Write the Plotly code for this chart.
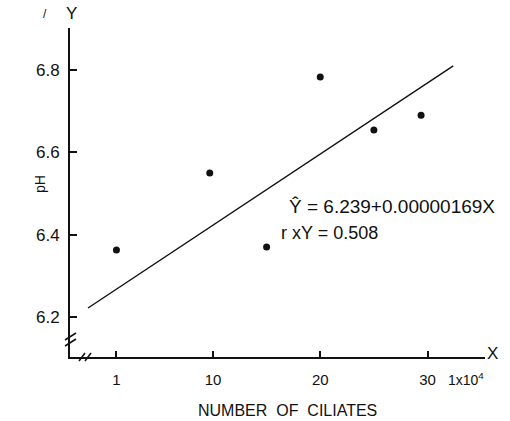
import plotly.graph_objects as go

# Data (x in units of 10^4 ciliates, y = pH)
ciliates = [1, 9.7, 15, 20, 25, 29.4]
ph = [6.363, 6.55, 6.37, 6.783, 6.654, 6.69]

# Regression line end points as drawn
reg_x = [-1.65, 32.4]
reg_y = [6.222, 6.81]

x_ticks = [1, 10, 20, 30]
x_ticktext = ["1", "10", "20", "30"]
y_ticks = [6.2, 6.4, 6.6, 6.8]
y_ticktext = ["6.2", "6.4", "6.6", "6.8"]

W, H = 510, 421
L, R, T, B = 70, 25, 28, 64
PW, PH = W - L - R, H - T - B

def px(x):
    return (x - L) / PW

def py(y):
    return (H - B - y) / PH

FONT = "Liberation Sans"
INK = "#111111"

fig = go.Figure()
fig.add_trace(go.Scatter(x=reg_x, y=reg_y, mode="lines",
                         line=dict(color=INK, width=1.4), hoverinfo="skip"))
fig.add_trace(go.Scatter(x=ciliates, y=ph, mode="markers",
                         marker=dict(color=INK, size=7)))

annotations = [
    dict(text="Ŷ = 6.239+0.00000169X", x=px(287), y=py(206), xanchor="left", yanchor="middle",
         font=dict(size=19, color=INK)),
    dict(text="r xY = 0.508", x=px(279), y=py(233), xanchor="left", yanchor="middle",
         font=dict(size=18, color=INK)),
    dict(text="Y", x=px(71), y=py(13), xanchor="center", yanchor="middle",
         font=dict(size=17, color=INK)),
    dict(text="/", x=px(45), y=py(14), xanchor="center", yanchor="middle",
         font=dict(size=12, color=INK)),
    dict(text="X", x=px(493), y=py(353), xanchor="center", yanchor="middle",
         font=dict(size=17, color=INK)),
    dict(text="1x10<sup>4</sup>", x=px(466), y=py(379), xanchor="center", yanchor="middle",
         font=dict(size=14, color=INK)),
    dict(text="NUMBER  OF  CILIATES", x=px(287), y=py(410), xanchor="center", yanchor="middle",
         font=dict(size=16, color=INK)),
    dict(text="pH", x=px(40), y=py(184), xanchor="center", yanchor="middle", textangle=-90,
         font=dict(size=14, color=INK)),
]
for a in annotations:
    a.update(xref="paper", yref="paper", showarrow=False)

shapes = []
# axis break marks
for (x0, y0, x1, y1) in [(65, 340, 76, 333), (65, 346, 76, 339), (79, 361, 85, 353), (85, 361, 91, 353)]:
    shapes.append(dict(type="line", xref="paper", yref="paper",
                       x0=px(x0), y0=py(y0), x1=px(x1), y1=py(y1),
                       line=dict(color=INK, width=1.5)))

fig.update_layout(
    width=W, height=H,
    margin=dict(l=L, r=R, t=T, b=B),
    paper_bgcolor="white", plot_bgcolor="white",
    showlegend=False,
    font=dict(family=FONT, color=INK),
    annotations=annotations,
    shapes=shapes,
    xaxis=dict(range=[-3.33, 35.36], showgrid=False, zeroline=False,
               showline=True, linecolor=INK, linewidth=2,
               tickvals=x_ticks, ticktext=x_ticktext, ticks="inside", ticklen=6,
               tickcolor=INK, tickwidth=1.5, ticklabelstandoff=8,
               tickfont=dict(size=15, color=INK)),
    yaxis=dict(range=[6.103, 6.902], showgrid=False, zeroline=False,
               showline=True, linecolor=INK, linewidth=2,
               tickvals=y_ticks, ticktext=y_ticktext, ticks="inside", ticklen=7,
               tickcolor=INK, tickwidth=1.5, ticklabelstandoff=5,
               tickfont=dict(size=17, color=INK)),
)

fig.write_html("out.html", config={"displayModeBar": False},
               post_script="document.body.style.margin='0';")
